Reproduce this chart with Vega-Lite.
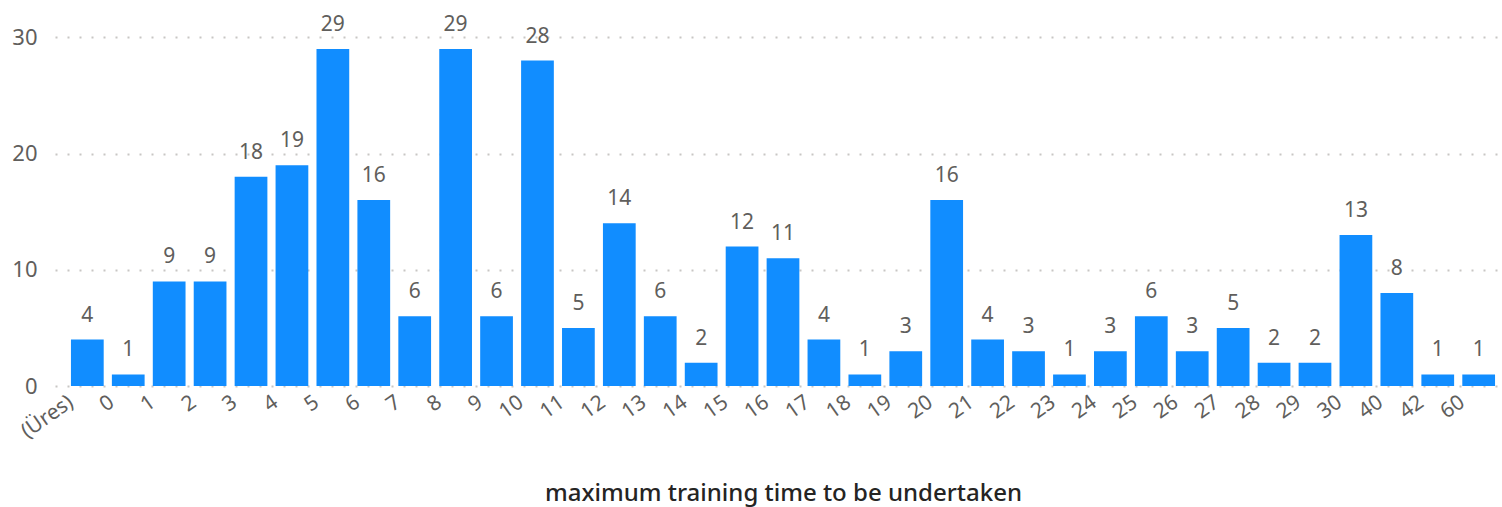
{
  "$schema": "https://vega.github.io/schema/vega-lite/v6.json",
  "autosize": "none",
  "width": 1456,
  "height": 372,
  "padding": {"left": 55, "top": 14, "right": 0, "bottom": 121},
  "background": "white",
  "config": {
    "view": {"stroke": null},
    "font": "Noto Sans"
  },
  "data": {
    "values": [
      {"k": "(Üres)", "v": 4}, {"k": "0", "v": 1}, {"k": "1", "v": 9}, {"k": "2", "v": 9},
      {"k": "3", "v": 18}, {"k": "4", "v": 19}, {"k": "5", "v": 29}, {"k": "6", "v": 16},
      {"k": "7", "v": 6}, {"k": "8", "v": 29}, {"k": "9", "v": 6}, {"k": "10", "v": 28},
      {"k": "11", "v": 5}, {"k": "12", "v": 14}, {"k": "13", "v": 6}, {"k": "14", "v": 2},
      {"k": "15", "v": 12}, {"k": "16", "v": 11}, {"k": "17", "v": 4}, {"k": "18", "v": 1},
      {"k": "19", "v": 3}, {"k": "20", "v": 16}, {"k": "21", "v": 4}, {"k": "22", "v": 3},
      {"k": "23", "v": 1}, {"k": "24", "v": 3}, {"k": "25", "v": 6}, {"k": "26", "v": 3},
      {"k": "27", "v": 5}, {"k": "28", "v": 2}, {"k": "29", "v": 2}, {"k": "30", "v": 13},
      {"k": "40", "v": 8}, {"k": "42", "v": 1}, {"k": "60", "v": 1}
    ]
  },
  "encoding": {
    "x": {
      "field": "k", "type": "nominal", "sort": null,
      "scale": {"paddingInner": 0.2, "paddingOuter": 0.39},
      "axis": {
        "title": "maximum training time to be undertaken",
        "titleFont": "Noto Sans", "titleFontSize": 24, "titleFontWeight": 500,
        "titleColor": "#252423", "titlePadding": 40,
        "labelAngle": -35, "labelAlign": "right", "labelBaseline": "middle",
        "labelOffset": -16, "labelPadding": 14,
        "labelFontSize": 21, "labelColor": "#605E5C",
        "domain": false, "ticks": false, "grid": false
      }
    },
    "y": {
      "field": "v", "type": "quantitative",
      "scale": {"domain": [0, 32], "nice": false},
      "axis": {
        "title": null, "values": [0, 10, 20, 30],
        "labelFontSize": 22, "labelColor": "#605E5C", "labelPadding": 18,
        "domain": false, "ticks": false,
        "grid": true, "gridColor": "#C8C6C4", "gridDash": [2, 10], "gridWidth": 2
      }
    }
  },
  "layer": [
    {"mark": {"type": "bar", "color": "#118DFF"}},
    {
      "mark": {"type": "text", "baseline": "bottom", "dy": -14, "fontSize": 21, "color": "#605E5C"},
      "encoding": {"text": {"field": "v", "type": "quantitative"}}
    }
  ]
}
